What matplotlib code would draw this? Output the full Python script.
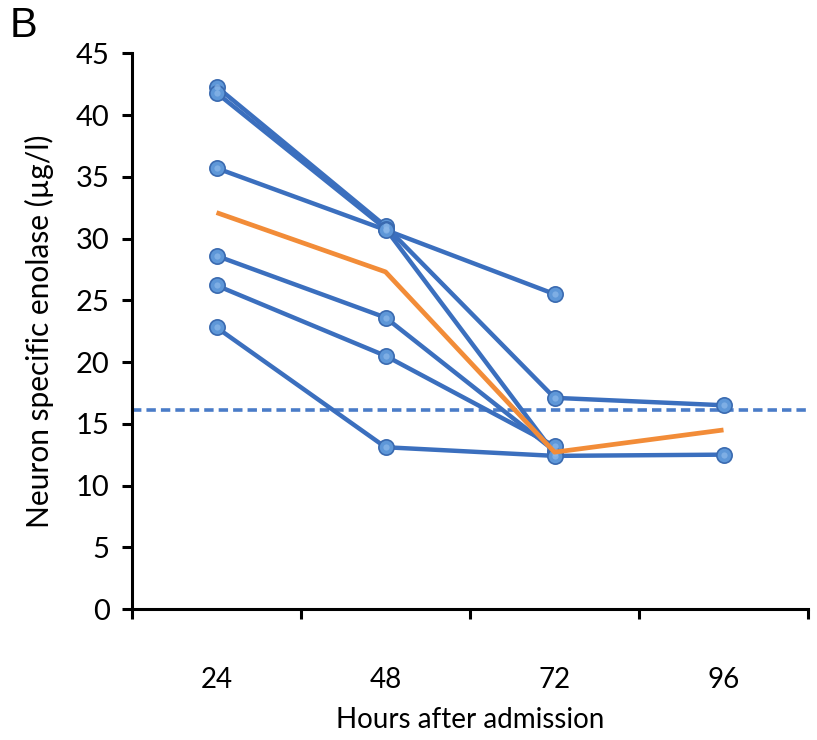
import numpy as np
import matplotlib
matplotlib.use('Agg')
import matplotlib.pyplot as plt

plt.rcParams['font.family'] = ['Lato', 'DejaVu Sans']

hours = ["24", "48", "72", "96"]
# individual patients (nan = no measurement)
patients = [
    [42.3, 31.0, 17.1, 16.5],
    [41.8, 30.8, 12.6, np.nan],
    [35.7, 30.7, 25.5, np.nan],
    [28.6, 23.6, 12.8, np.nan],
    [26.2, 20.5, 13.2, np.nan],
    [22.8, 13.1, 12.4, 12.5],
]
mean_nse = [32.1, 27.3, 12.7, 14.5]
cutoff = 16.1

blue = '#3B6FBE'
orange = '#F28C38'

fig = plt.figure(figsize=(8.17, 7.40), dpi=100)
ax = fig.add_axes([0.1616, 0.177, 0.8274, 0.751])

x = np.arange(len(hours))
ax.axhline(cutoff, color='#4A7CC8', lw=2.6, ls=(0, (2.6, 1.4)), zorder=1)

for p in patients:
    ax.plot(x, p, color=blue, lw=3.2, zorder=2,
            marker='o', ms=11, mfc='#5E97D8', mec='#3A6AB0', mew=1.2)
    # small highlight to mimic the glossy markers
    ax.plot(x, p, ls='none', marker='o', ms=4.5, mfc='#8CB8EA', mec='none',
            zorder=3, alpha=0.7)

ax.plot(x, mean_nse, color=orange, lw=3.4, zorder=4, solid_capstyle='butt')

ax.set_xlim(-0.5, len(hours) - 0.5)
ax.set_ylim(0, 45)
ax.set_yticks(np.arange(0, 46, 5))

ax.set_xticks(np.arange(-0.5, len(hours), 1.0))
ax.set_xticklabels([])
ax.set_xticks(x, minor=True)
ax.set_xticklabels(hours, minor=True)
ax.tick_params(axis='x', which='major', direction='out', length=7, width=2.2)
ax.tick_params(axis='x', which='minor', length=0, pad=42, labelsize=20)
ax.tick_params(axis='y', direction='out', length=7, width=2.2, pad=9, labelsize=21)

for s in ['top', 'right']:
    ax.spines[s].set_visible(False)
for s in ['left', 'bottom']:
    ax.spines[s].set_linewidth(2.2)

ax.set_xlabel("Hours after admission", fontsize=20, labelpad=10)
ax.set_ylabel("Neuron specific enolase (\u00b5g/l)", fontsize=21.5, labelpad=16)

fig.text(0.012, 0.992, "B", fontsize=30, family='Liberation Sans', va='top', ha='left')

fig.savefig("out.png", dpi=100)
